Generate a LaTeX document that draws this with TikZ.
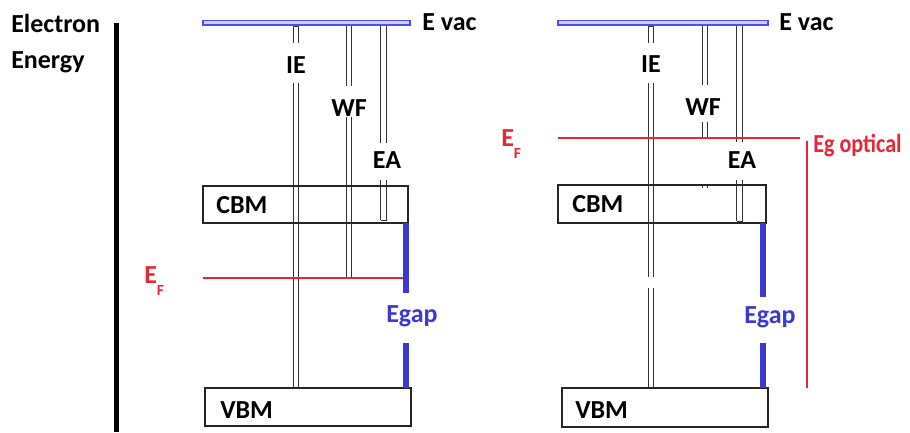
\documentclass[tikz,border=0pt]{standalone}
\usepackage{fontspec}
\setmainfont{Carlito}
\begin{document}
\begin{tikzpicture}[x=0.75pt,y=-0.75pt,
  lbl/.style={font=\fontsize{19.5pt}{22pt}\selectfont\bfseries, inner sep=0pt, anchor=base west},
  lblc/.style={lbl, anchor=base},
  dbl/.style={draw=black!80, line width=0.7pt, double=white, double distance=3.6pt},
  endcap/.style={draw=black!80, line width=0.7pt},
  levelbox/.style={draw=black!85, line width=0.8pt},
  vacbar/.style={draw=blue!70!white, fill=blue!18, line width=0.8pt},
  gapbar/.style={draw=egapblue, line width=4.8pt},
  fermi/.style={draw=ered, line width=0.8pt}
]
\definecolor{ered}{RGB}{232,38,52}
\definecolor{egapblue}{RGB}{58,58,208}
\useasboundingbox[fill=white] (0,0) rectangle (910,432);

% energy axis
\node[lbl] (el) at (11,32) {Electron};
\node[lbl] (en) at (11,68) {Energy};
\draw[line width=4.2pt] (116.5,23) coordinate (axtop) -- (116.5,432) coordinate (axbot);

% ---------- left panel: metal-like Fermi level ----------
% double-line transitions
\draw[dbl] (296,26) -- (296,43);
\draw[endcap] (293,26) -- (299,26);
\draw[dbl] (296,83) -- (296,388);
\draw[dbl] (349,25) -- (349,86);
\draw[dbl] (349,117) -- (349,277.5);
\draw[endcap] (346,277.5) -- (352,277.5);
\draw[dbl] (383.5,20) -- (383.5,143);
\draw[dbl] (383.5,180) -- (383.5,220);
\draw[endcap] (380.5,220) -- (386.5,220);

\draw[vacbar] (203,20.5) rectangle (410,25) node[coordinate] (vacL) {};
\node[lbl] (evacL) at (422,30) {E vac};

\node[lblc] (ieL) at (296,73) {IE};
\node[lblc] (wfL) at (349,116) {WF};
\node[lblc] (eaL) at (387,168) {EA};

\draw[levelbox] (203,186) rectangle (408,223);
\node[lbl] (cbmL) at (216,213) {CBM};
\draw[levelbox] (205,388) rectangle (411,426);
\node[lbl] (vbmL) at (220,418) {VBM};

\draw[fermi] (203,278) -- (408,278);
\node[lbl, text=ered] (efL) at (144,283) {E\raisebox{-9pt}{\fontsize{11.6pt}{13pt}\selectfont F}};

\draw[gapbar] (406,223) -- (406,293);
\draw[gapbar] (406,343) -- (406,388);
\node[lbl, text=egapblue] (egL) at (386,322) {Egap};

% ---------- right panel: Fermi level near the CBM ----------
\draw[dbl] (651,26) -- (651,43);
\draw[endcap] (648,26) -- (654,26);
\draw[dbl] (651,83) -- (651,277);
\draw[dbl] (651,288) -- (651,388);
\draw[dbl] (705,25) -- (705,85);
\draw[dbl] (705,122) -- (705,138);
\draw[endcap] (702.5,184.5) -- (702.5,188);
\draw[endcap] (707.5,184.5) -- (707.5,188);
\draw[dbl] (739.5,20) -- (739.5,142);
\draw[dbl] (739.5,180) -- (739.5,221);
\draw[endcap] (736.5,221) -- (742.5,221);

\draw[vacbar] (558,20.5) rectangle (768,25) node[coordinate] (vacR) {};
\node[lbl] (evacR) at (779,30) {E vac};

\node[lblc] (ieR) at (651,72) {IE};
\node[lblc] (wfR) at (703,115) {WF};
\node[lblc] (eaR) at (742,168) {EA};

\draw[levelbox] (558,185) rectangle (766,223);
\node[lbl] (cbmR) at (572,212) {CBM};
\draw[levelbox] (562,388) rectangle (768,427);
\node[lbl] (vbmR) at (575,418) {VBM};

\draw[fermi] (558,138) -- (800,138);
\node[lbl, text=ered] (efR) at (501,146) {E\raisebox{-9pt}{\fontsize{11.6pt}{13pt}\selectfont F}};

\draw[fermi] (807,141) coordinate (egoTop) -- (807,388) coordinate (egoBot);
\node[lbl, text=ered] (ego) at (813,152) {\scalebox{0.85}[1]{Eg optical}};

\draw[gapbar] (763,223) -- (763,297);
\draw[gapbar] (763,343) -- (763,388);
\node[lbl, text=egapblue] (egR) at (744,323) {Egap};
\end{tikzpicture}
\end{document}
